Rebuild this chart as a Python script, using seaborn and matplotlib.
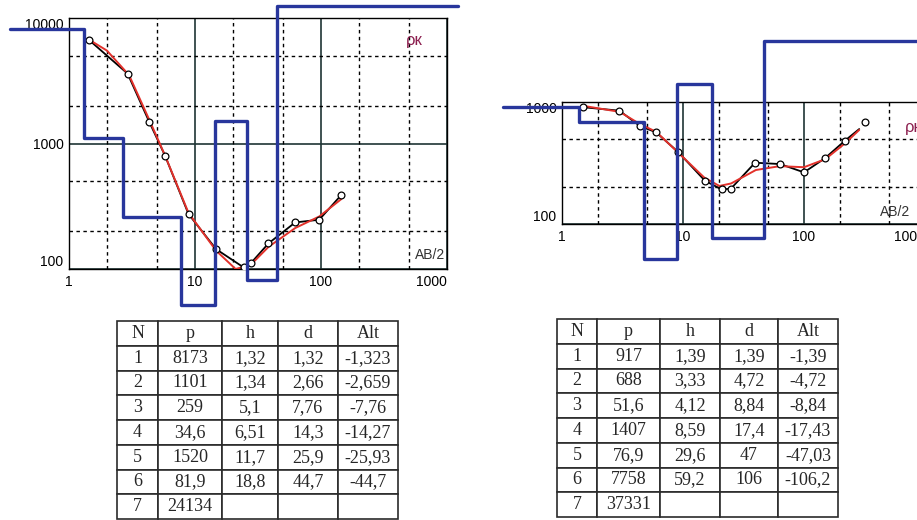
import numpy as np
import seaborn as sns
import matplotlib.pyplot as plt
from matplotlib.ticker import LogLocator, NullFormatter

sns.set_style("white")
plt.rcParams['font.family'] = ['Liberation Sans', 'DejaVu Sans']

# --- layer tables (as printed) ---
cols = ["N", "p", "h", "d", "Alt"]
layers = ["1", "2", "3", "4", "5", "6", "7"]

left_p = ["8173", "1101", "259", "34,6", "1520", "81,9", "24134"]
left_h = ["1,32", "1,34", "5,1", "6,51", "11,7", "18,8", ""]
left_d = ["1,32", "2,66", "7,76", "14,3", "25,9", "44,7", ""]
left_alt = ["-1,323", "-2,659", "-7,76", "-14,27", "-25,93", "-44,7", ""]

right_p = ["917", "688", "51,6", "1407", "76,9", "7758", "37331"]
right_h = ["1,39", "3,33", "4,12", "8,59", "29,6", "59,2", ""]
right_d = ["1,39", "4,72", "8,84", "17,4", "47", "106", ""]
right_alt = ["-1,39", "-4,72", "-8,84", "-17,43", "-47,03", "-106,2", ""]

# --- sounding curves (AB/2, rho_k) ---
left_obs_x = [1.45, 2.92, 4.33, 5.79, 8.88, 14.7, 24.3, 27.7, 38.3, 62.4, 96.8, 144.6]
left_obs_y = [6650, 3600, 1490, 798, 274, 144, 103, 111, 160, 235, 247, 388]
left_fit_x = [1.45, 2, 3, 4.33, 5.79, 8.88, 14.7, 21, 27.7, 38.3, 62.4, 96.8, 144.6]
left_fit_y = [6700, 5500, 3500, 1550, 800, 280, 140, 100, 108, 150, 212, 262, 360]

right_pts_x = [1.5, 2.98, 4.41, 5.98, 9.1, 15.2, 20.9, 24.9, 39.4, 63.4, 100, 149, 218, 319]
right_pts_y = [906, 849, 635, 565, 390, 226, 192, 195, 318, 310, 265, 346, 482, 690]
right_obs_x = [1.5, 2.98, 4.41, 5.98, 9.1, 15.2, 20.9, 24.9, 39.4, 63.4, 100, 149, 218, 286]
right_obs_y = [906, 849, 635, 565, 390, 226, 192, 195, 318, 310, 265, 346, 482, 600]
right_fit_x = [1.5, 3, 4.4, 6, 9, 15, 20, 25, 40, 63, 100, 150, 218, 286]
right_fit_y = [930, 830, 660, 570, 390, 240, 205, 215, 277, 298, 292, 340, 458, 590]

BLUE = "#28369c"
RED = "#e3312b"
LABEL = "#8c1f4f"


def num(s):
    return float(s.replace(",", "."))


def model_steps(p, d, x0, x1, lo, hi):
    rho = np.clip([num(v) for v in p], lo, hi)
    xs = [x0] + [num(v) for v in d if v] + [x1]
    ys = list(rho) + [rho[-1]]
    return xs, ys


def panel(ax, ylim, yticks, obs, fit, pts, steps, rho_xy, ab_xy):
    ax.set_xscale("log")
    ax.set_yscale("log")
    ax.set_xlim(1, 1000)
    ax.set_ylim(*ylim)

    # grid: solid at decades, dashed at 2 and 5
    ax.grid(which="major", color="#1f3535", lw=1.2)
    for dec in [1, 10, 100]:
        for s in (2, 5):
            ax.axvline(dec * s, color="black", lw=1.0, ls=(0, (2.5, 2.5)), zorder=1)
    for dec in [10, 100, 1000, 10000]:
        for s in (2, 5):
            if ylim[0] < dec * s < ylim[1]:
                ax.axhline(dec * s, color="black", lw=1.0, ls=(0, (2.5, 2.5)), zorder=1)

    sns.lineplot(x=obs[0], y=obs[1], ax=ax, color="black", lw=1.3, sort=False,
                 estimator=None, zorder=3)
    sns.lineplot(x=fit[0], y=fit[1], ax=ax, color=RED, lw=1.4, sort=False,
                 estimator=None, zorder=4)
    sns.scatterplot(x=pts[0], y=pts[1], ax=ax, color="white", edgecolor="black",
                    linewidth=0.9, s=24, zorder=5)
    sns.lineplot(x=steps[0], y=steps[1], ax=ax, color=BLUE, lw=2.4, sort=False,
                 estimator=None, drawstyle="steps-post", clip_on=False, zorder=6)

    ax.set_xticks([1, 10, 100, 1000])
    ax.set_xticklabels(["1", "10", "100", "1000"])
    ax.set_yticks(yticks)
    ax.set_yticklabels([str(v) for v in yticks])
    ax.xaxis.set_minor_locator(LogLocator(base=10, subs=np.arange(2, 10), numticks=30))
    ax.yaxis.set_minor_locator(LogLocator(base=10, subs=np.arange(2, 10), numticks=30))
    ax.xaxis.set_minor_formatter(NullFormatter())
    ax.yaxis.set_minor_formatter(NullFormatter())
    ax.tick_params(which="both", direction="in", top=False, right=False,
                   labelsize=10, colors="black", width=1)
    ax.tick_params(which="major", length=6, pad=4)
    ax.tick_params(which="minor", length=4)
    ax.get_xticklabels()[-1].set_ha("right")
    ax.get_yticklabels()[0].set_va("bottom")
    ax.get_yticklabels()[-1].set_va("top")
    for sp in ax.spines.values():
        sp.set_color("black")
        sp.set_linewidth(1.0)
    ax.set(xlabel="", ylabel="")

    ax.text(rho_xy[0], rho_xy[1], "ρк", transform=ax.transAxes, color=LABEL,
            fontsize=12, ha="left", va="center")
    ax.text(ab_xy[0], ab_xy[1], "AB/2", transform=ax.transAxes, color="#333333",
            fontsize=10, ha="left", va="center")


def layer_table(ax, p, h, d, alt, widths):
    ax.axis("off")
    rows = [list(r) for r in zip(layers, p, h, d, alt)]
    w = np.array(widths) / sum(widths)
    tbl = ax.table(cellText=rows, colLabels=cols, colWidths=list(w),
                   cellLoc="center", bbox=[0, 0, 1, 1])
    tbl.auto_set_font_size(False)
    for cell in tbl.get_celld().values():
        cell.set_edgecolor("#2b2b2b")
        cell.set_linewidth(1.2)
        cell.get_text().set_fontfamily("Liberation Serif")
        cell.get_text().set_fontsize(13)


fig = plt.figure(figsize=(9.17, 5.2), dpi=100)
W, H = 917, 520

ax1 = fig.add_axes([69 / W, 1 - 269 / H, 378 / W, 251 / H])
panel(ax1, (100, 10000), [100, 1000, 10000],
      (left_obs_x, left_obs_y), (left_fit_x, left_fit_y), (left_obs_x, left_obs_y),
      model_steps(left_p, left_d, 0.34, 1220, 52, 12500),
      (0.89, 0.91), (0.915, 0.055))

ax2 = fig.add_axes([562 / W, 1 - 224 / H, 363 / W, 122 / H])
panel(ax2, (100, 1000), [100, 1000],
      (right_obs_x, right_obs_y), (right_fit_x, right_fit_y), (right_pts_x, right_pts_y),
      model_steps(right_p, right_d, 0.325, 20000, 0, 3160),
      (0.945, 0.79), (0.877, 0.10))

t1 = fig.add_axes([117 / W, 1 - 519 / H, 281 / W, 198 / H])
layer_table(t1, left_p, left_h, left_d, left_alt, [41, 64, 56, 60, 60])

t2 = fig.add_axes([557 / W, 1 - 517 / H, 281 / W, 198 / H])
layer_table(t2, right_p, right_h, right_d, right_alt, [40, 63, 60, 58, 60])

fig.savefig("out.png", dpi=100)
